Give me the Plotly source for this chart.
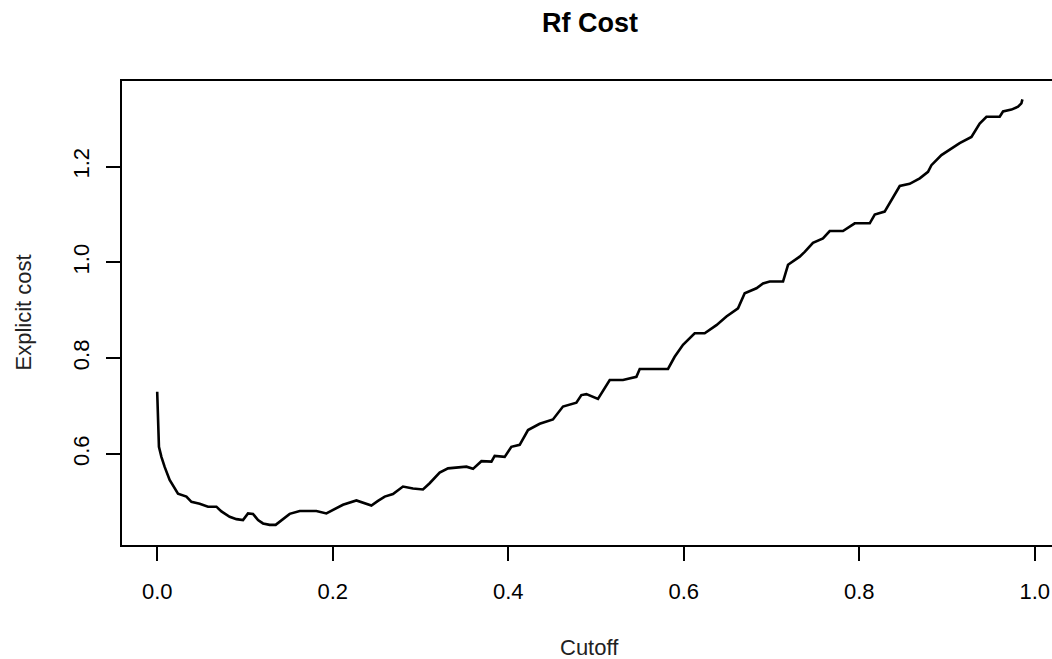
import plotly.graph_objects as go

cutoff = [0.000, 0.001, 0.002, 0.0048, 0.0085, 0.0142, 0.0199, 0.0237, 0.0333, 0.039,
          0.0484, 0.0579, 0.0675, 0.0732, 0.0826, 0.0903, 0.0978, 0.1035, 0.1092, 0.1149,
          0.1206, 0.1282, 0.135, 0.1415, 0.151, 0.1624, 0.1814, 0.1928, 0.2003, 0.2117,
          0.227, 0.2365, 0.2441, 0.2516, 0.2593, 0.2687, 0.2801, 0.2915, 0.3029, 0.3105,
          0.3219, 0.3314, 0.3524, 0.3599, 0.3695, 0.3809, 0.3846, 0.396, 0.4036, 0.4131,
          0.4226, 0.4359, 0.451, 0.4624, 0.4777, 0.4834, 0.4891, 0.5023, 0.5157, 0.5308,
          0.5461, 0.5499, 0.5821, 0.5897, 0.5992, 0.6125, 0.6239, 0.6373, 0.6487, 0.6619,
          0.6695, 0.6829, 0.6904, 0.6980, 0.7132, 0.7189, 0.7322, 0.7379, 0.7473, 0.7587,
          0.7664, 0.7815, 0.7949, 0.812, 0.8177, 0.829, 0.8385, 0.8462, 0.8575, 0.869,
          0.8784, 0.8823, 0.8937, 0.9051, 0.9145, 0.9279, 0.9373, 0.945, 0.9601, 0.9639,
          0.9735, 0.981, 0.9848, 0.986]
cost = [0.730, 0.640, 0.615, 0.594, 0.573, 0.546, 0.528, 0.517, 0.511, 0.500,
        0.496, 0.490, 0.490, 0.480, 0.469, 0.464, 0.462, 0.476, 0.475, 0.462,
        0.455, 0.452, 0.452, 0.462, 0.475, 0.481, 0.481, 0.476, 0.483, 0.494,
        0.503, 0.498, 0.4925, 0.502, 0.511, 0.5165, 0.532, 0.528, 0.526, 0.539,
        0.561, 0.570, 0.5735, 0.569, 0.585, 0.584, 0.596, 0.594, 0.615, 0.619,
        0.650, 0.663, 0.672, 0.699, 0.707, 0.723, 0.725, 0.715, 0.7545, 0.7545,
        0.761, 0.7775, 0.7775, 0.803, 0.828, 0.852, 0.852, 0.869, 0.887, 0.904,
        0.9355, 0.946, 0.956, 0.960, 0.960, 0.995, 1.012, 1.022, 1.041, 1.050,
        1.0655, 1.0655, 1.0816, 1.0816, 1.100, 1.106, 1.134, 1.1595, 1.164, 1.1755,
        1.189, 1.203, 1.224, 1.238, 1.249, 1.262, 1.290, 1.304, 1.304, 1.315,
        1.319, 1.325, 1.332, 1.3405]

x_ticks = [0.0, 0.2, 0.4, 0.6, 0.8, 1.0]
x_tick_labels = ["0.0", "0.2", "0.4", "0.6", "0.8", "1.0"]
y_ticks = [0.6, 0.8, 1.0, 1.2]
y_tick_labels = ["0.6", "0.8", "1.0", "1.2"]

FONT = "Liberation Sans, Arial, sans-serif"

fig = go.Figure()
fig.add_trace(go.Scatter(x=cutoff, y=cost, mode="lines",
                         line=dict(color="black", width=2.6), showlegend=False,
                         hoverinfo="skip"))

fig.update_layout(
    width=1052, height=659,
    margin=dict(l=122, r=0, t=81, b=114),
    paper_bgcolor="white", plot_bgcolor="white",
    font=dict(family=FONT, color="black", size=22),
    xaxis=dict(range=[-0.0401, 1.0197], showgrid=False, zeroline=False,
               showline=True, linecolor="black", linewidth=1.5, mirror=True,
               ticks="outside", ticklen=14, tickwidth=1.5, tickcolor="black",
               tickvals=x_ticks, ticktext=x_tick_labels,
               tickfont=dict(family=FONT, size=22, color="black"),
               ticklabelstandoff=12),
    yaxis=dict(range=[0.41, 1.3787], showgrid=False, zeroline=False,
               showline=True, linecolor="black", linewidth=1.5, mirror=False,
               ticks="outside", ticklen=14, tickwidth=1.5, tickcolor="black",
               tickvals=y_ticks, ticktext=y_tick_labels, tickangle=-90,
               tickfont=dict(family=FONT, size=22, color="black"),
               ticklabelstandoff=8),
)

fig.add_annotation(text="<b>Rf Cost</b>", xref="paper", yref="paper",
                   x=(589.5 - 122) / 930, y=1 + (81 - 23) / 464,
                   showarrow=False, font=dict(family=FONT, size=27, color="black"),
                   xanchor="center", yanchor="middle")
fig.add_annotation(text="Cutoff", xref="paper", yref="paper",
                   x=(589.5 - 122) / 930, y=-(647 - 545) / 464,
                   showarrow=False, font=dict(family=FONT, size=22, color="#222"),
                   xanchor="center", yanchor="middle")
fig.add_annotation(text="Explicit cost", xref="paper", yref="paper",
                   x=-(122 - 22.5) / 930, y=0.5, textangle=-90,
                   showarrow=False, font=dict(family=FONT, size=22, color="#222"),
                   xanchor="center", yanchor="middle")

fig.write_html("out.html")
